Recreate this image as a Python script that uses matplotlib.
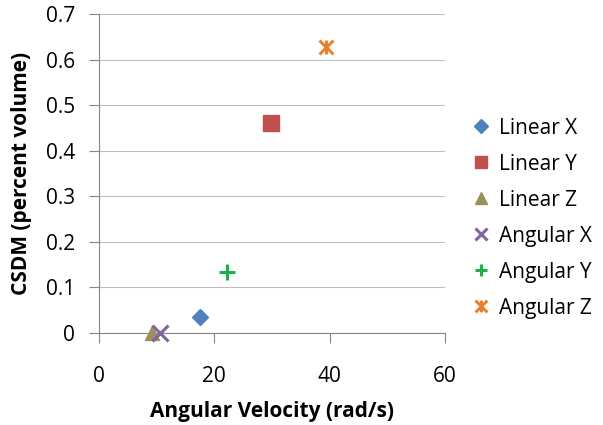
import matplotlib
matplotlib.use("Agg")
from matplotlib import pyplot as plt
from matplotlib.path import Path

# values
series = ["Linear X", "Linear Y", "Linear Z", "Angular X", "Angular Y", "Angular Z"]
velocity = [17.5, 29.8, 9.2, 10.6, 22.2, 39.4]
csdm = [0.035, 0.461, 0.0, 0.0, 0.134, 0.628]

colors = ["#4F81BD", "#C0504D", "#9B8F5A", "#8064A2", "#1CB24B", "#E8812F"]

star = Path([(-1, -1), (1, 1), (-1, 1), (1, -1), (0, -1), (0, 1)],
            [Path.MOVETO, Path.LINETO, Path.MOVETO, Path.LINETO, Path.MOVETO, Path.LINETO])
markers = ["D", "s", "^", "x", "+", star]
sizes = [8, 11, 10, 11, 11, 10]

plt.rcParams['font.family'] = ['Open Sans', 'DejaVu Sans']

fig = plt.figure(figsize=(6.03, 4.25), dpi=100)
ax = fig.add_axes([0.164, 0.2165, 0.574, 0.7505])

for i, name in enumerate(series):
    ax.plot(velocity[i], csdm[i], linestyle="none", marker=markers[i],
            markersize=sizes[i], color=colors[i], markeredgecolor=colors[i],
            markeredgewidth=2.2 if i >= 3 else 1, label=name, clip_on=False, zorder=3)

ax.set_xlim(0, 60)
ax.set_ylim(0, 0.7)
ax.set_xticks([0, 20, 40, 60])
ax.set_yticks([i / 10 for i in range(8)])
ax.set_yticklabels(["0"] + [f"{i / 10:.1f}" for i in range(1, 8)])
ax.grid(axis="y", color="#BFBFBF", linewidth=0.8)
ax.set_axisbelow(True)
for s in ["top", "right"]:
    ax.spines[s].set_visible(False)
for s in ["left", "bottom"]:
    ax.spines[s].set_color("#868686")
ax.tick_params(direction="out", length=7, color="#868686", labelsize=15)
ax.tick_params(axis="y", pad=10)
ax.tick_params(axis="x", pad=17)

ax.set_xlabel("Angular Velocity (rad/s)", fontsize=15, fontweight="bold", labelpad=10)
ax.set_ylabel("CSDM (percent volume)", fontsize=15, fontweight="bold", labelpad=10)

ax.legend(loc="center left", bbox_to_anchor=(1.03, 0.36), frameon=False, fontsize=15,
          handlelength=0.7, handletextpad=0.5, labelspacing=0.72, numpoints=1,
          markerscale=0.85)

plt.savefig("out.png", dpi=100)
